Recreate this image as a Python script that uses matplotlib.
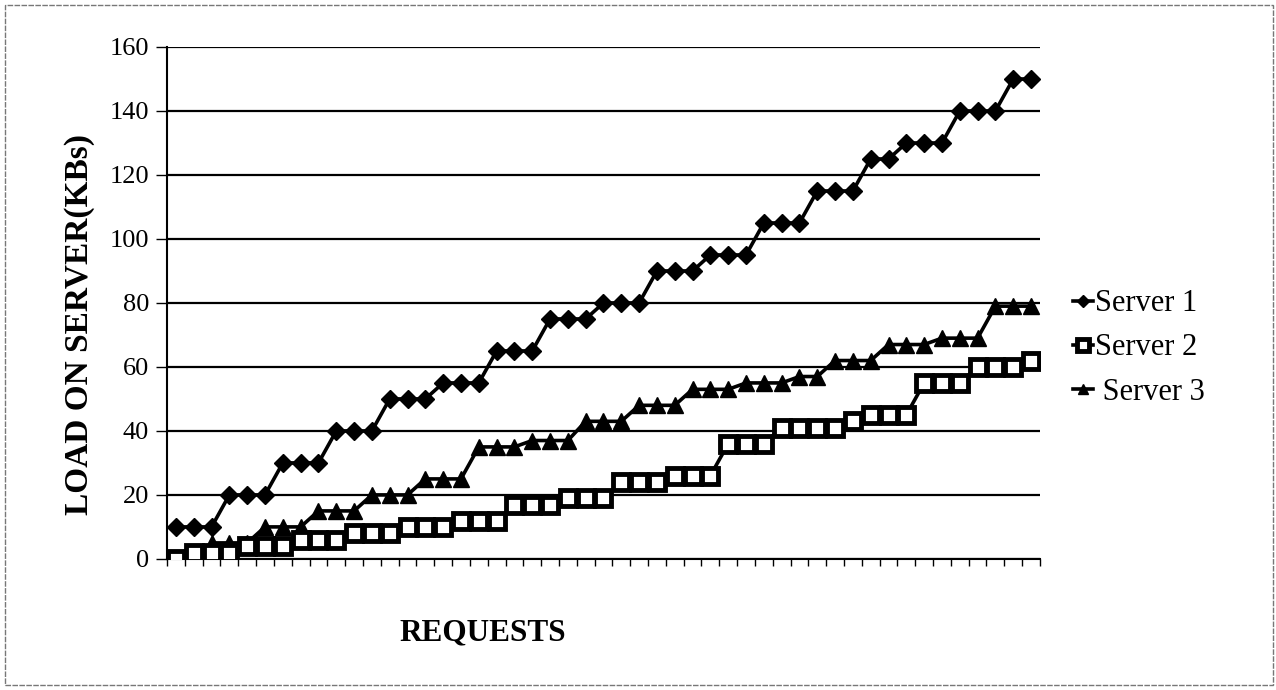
import numpy as np
import matplotlib.pyplot as plt
from matplotlib.patches import Rectangle

plt.rcParams['font.family'] = ['Liberation Serif', 'DejaVu Serif']

# load per request (KBs), 49 requests
server1 = [10, 10, 10, 20, 20, 20, 30, 30, 30, 40, 40, 40, 50, 50, 50,
           55, 55, 55, 65, 65, 65, 75, 75, 75, 80, 80, 80, 90, 90, 90,
           95, 95, 95, 105, 105, 105, 115, 115, 115, 125, 125,
           130, 130, 130, 140, 140, 140, 150, 150]
server2 = [0, 2, 2, 2, 4, 4, 4, 6, 6, 6, 8, 8, 8, 10, 10, 10,
           12, 12, 12, 17, 17, 17, 19, 19, 19, 24, 24, 24, 26, 26, 26,
           36, 36, 36, 41, 41, 41, 41, 43, 45, 45, 45, 55, 55, 55,
           60, 60, 60, 62]
server3 = [0, 0, 5, 5, 5, 10, 10, 10, 15, 15, 15, 20, 20, 20, 25, 25, 25,
           35, 35, 35, 37, 37, 37, 43, 43, 43, 48, 48, 48, 53, 53, 53,
           55, 55, 55, 57, 57, 62, 62, 62, 67, 67, 67, 69, 69, 69,
           79, 79, 79]
labels = ['Server 1', 'Server 2', ' Server 3']

x = np.arange(len(server1))

fig = plt.figure(figsize=(12.76, 6.9), dpi=100)
ax = fig.add_axes([0.1309, 0.19, 0.6841, 0.7419])

ax.plot(x, server1, '-', color='black', lw=2.6, marker='D', ms=9,
        mfc='black', mec='black', label=labels[0], zorder=3)
ax.plot(x, server2, '-', color='black', lw=2.6, marker='s', ms=12,
        mfc='white', mec='black', mew=3.5, label=labels[1], zorder=4)
ax.plot(x, server3, '-', color='black', lw=2.6, marker='^', ms=11,
        mfc='black', mec='black', label=labels[2], zorder=3)

ax.set_xlim(-0.5, len(x) - 0.5)
ax.set_ylim(0, 160)
ax.set_yticks(np.arange(0, 161, 20))
ax.yaxis.grid(True, color='black', lw=1.6)
ax.set_axisbelow(True)
ax.set_xticks(np.arange(-0.5, len(x), 1))
ax.set_xticklabels([])
ax.tick_params(axis='x', direction='out', length=5, width=1, color='black')
ax.tick_params(axis='y', direction='out', length=8, width=1, labelsize=19, pad=5)

for s in ['top', 'right']:
    ax.spines[s].set_visible(False)
ax.spines['left'].set_linewidth(1.5)
ax.spines['bottom'].set_linewidth(1.5)

ax.set_ylabel('LOAD ON SERVER(KBs)', fontsize=24, fontweight='bold')
ax.yaxis.set_label_coords(-0.083, 0.457)
fig.text(0.378, 0.083, 'REQUESTS', fontsize=22.5, fontweight='bold',
         ha='center', va='center')

leg = ax.legend(loc='center left', bbox_to_anchor=(1.024, 0.412), frameon=False,
                fontsize=22, handlelength=0.65, handletextpad=0.05,
                labelspacing=0.5, markerscale=0.7, borderaxespad=0)

fig.patches.append(Rectangle((0.004, 0.007), 0.994, 0.986, transform=fig.transFigure,
                             fill=False, edgecolor='#777777', lw=1, ls=(0, (4, 1))))

plt.savefig('out.png', dpi=100)
plt.close()
